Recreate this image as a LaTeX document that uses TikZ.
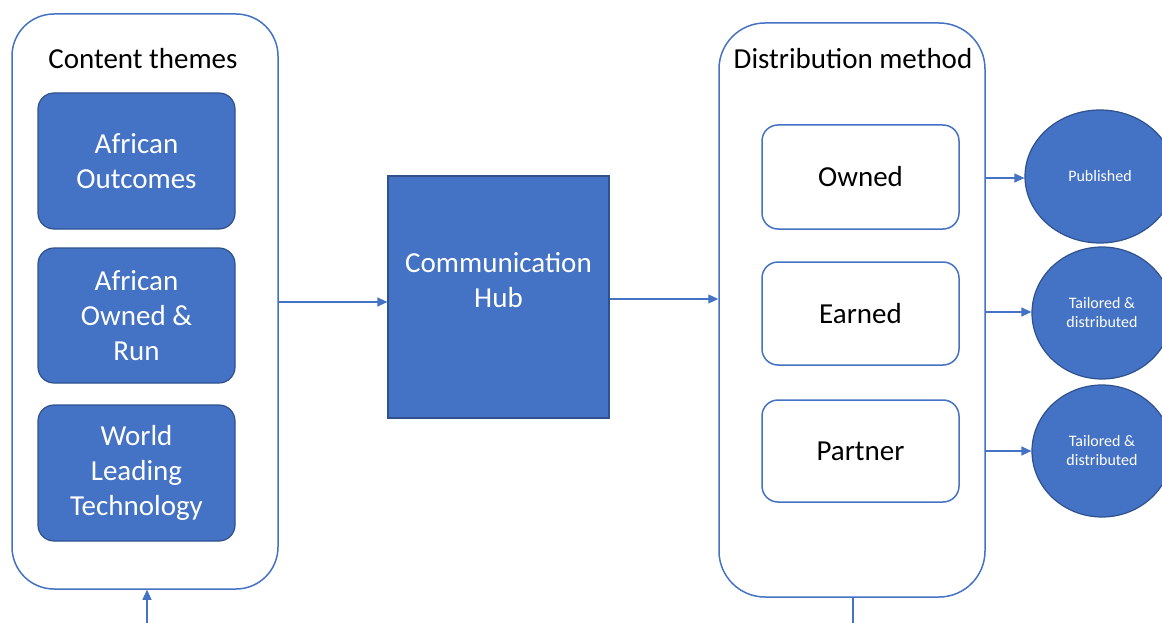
\documentclass[tikz,border=0pt]{standalone}
\usepackage{fontspec}
\setmainfont{Carlito}
\usetikzlibrary{arrows.meta,shapes.geometric}
\definecolor{hubblue}{HTML}{4472C4}
\definecolor{hubdark}{HTML}{2F528F}

\begin{document}
\begin{tikzpicture}[x=1pt, y=-1pt,
  container/.style={draw=hubblue, line width=1.5pt, rounded corners=42pt, minimum width=266pt, inner sep=0pt},
  heading/.style={font=\fontsize{29}{35}\selectfont, inner sep=0pt},
  theme/.style={draw=hubdark, line width=1.2pt, fill=hubblue, rounded corners=16pt, minimum width=197pt,
    inner sep=0pt, text=white, align=center, font=\fontsize{29}{35}\selectfont},
  method/.style={draw=hubblue, line width=1.5pt, fill=white, rounded corners=16pt, minimum width=197pt,
    inner sep=0pt, font=\fontsize{29}{35}\selectfont},
  outlet/.style={ellipse, draw=hubdark, line width=1.2pt, fill=hubblue, inner sep=0pt,
    text=white, align=center, font=\fontsize{16}{19}\selectfont},
  link/.style={draw=hubblue, line width=1.2pt, -{Triangle[length=10pt, width=9pt]}},
  feed/.style={draw=hubblue, line width=1.5pt}
]
\useasboundingbox (0,0) rectangle (1162,623);
\clip (0,0) rectangle (1162,623);

%content themes
\node[container, minimum height=575pt] (content) at (145,301.5) {};
\node[heading] (ctitle) at (143,59) {Content themes};
\node[theme, minimum height=136pt] (outcomes) at (136.5,161) {African\\Outcomes};
\node[theme, minimum height=135pt] (owned) at (136.5,315.5) {African\\Owned \&\\Run};
\node[theme, minimum height=136pt] (tech) at (136.5,473) {World\\Leading\\Technology};

%hub
\node[theme, rounded corners=0pt, minimum width=221pt, minimum height=242pt] (hub) at (498.5,297) {Communication\\Hub\\~};

%distribution method
\node[container, rounded corners=46pt, minimum height=574pt] (dist) at (852,310) {};
\node[heading] (dtitle) at (853,59) {Distribution method};
\node[method, minimum height=104pt] (mowned) at (860.5,177) {Owned};
\node[method, minimum height=103pt] (earned) at (860.5,313.5) {Earned};
\node[method, minimum height=102pt] (partner) at (860.5,451) {Partner};

%outlets
\node[outlet, minimum width=150pt, minimum height=133pt] (published) at (1100,176.5) {Published};
\node[outlet, minimum width=140pt, minimum height=132pt] (tailoredA) at (1102,313) {Tailored \&\\distributed};
\node[outlet, minimum width=140pt, minimum height=132pt] (tailoredB) at (1102,451) {Tailored \&\\distributed};

%connectors
\draw[link] (content.east |- 0,302) -- (hub.west |- 0,302);
\draw[link] (hub.east |- 0,299) -- (dist.west |- 0,299);
\draw[link] (dist.east |- 0,178) -- (published.west |- 0,178);
\draw[link] (dist.east |- 0,312) -- (tailoredA.west |- 0,312);
\draw[link] (dist.east |- 0,451) -- (tailoredB.west |- 0,451);

\coordinate (infeed) at (147,623);
\coordinate (outfeed) at (853,623);
\draw[link] (infeed) -- (content.south -| infeed);
\draw[feed] (dist.south -| outfeed) -- (outfeed);
\end{tikzpicture}
\end{document}
